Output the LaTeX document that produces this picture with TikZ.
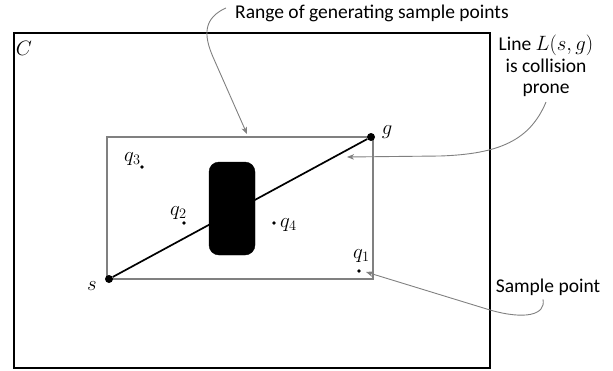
\documentclass[tikz,border=0pt]{standalone}
\usepackage{fontspec}
\setmainfont{Carlito}
\usetikzlibrary{arrows.meta}
\definecolor{linegray}{RGB}{128,128,128}
\begin{document}
\begin{tikzpicture}[x=1pt,y=-1pt,
  every node/.style={font=\fontsize{19.5}{21.5}\selectfont},
  cbox/.style={draw=black,line width=1.5pt,minimum width=476pt,minimum height=335pt,inner sep=0pt},
  rangebox/.style={draw=linegray,line width=1.3pt,minimum width=266pt,minimum height=142pt,inner sep=0pt},
  obstacle/.style={draw=black,fill=black,rounded corners=10pt,minimum width=46pt,minimum height=93pt,inner sep=0pt},
  endpt/.style={circle,fill=black,inner sep=0pt,minimum size=8pt},
  sample/.style={circle,fill=black,inner sep=0pt,minimum size=3.6pt},
  lbl/.style={inner sep=0pt},
  mlbl/.style={inner sep=0pt,font=\fontsize{21}{24}\selectfont},
  pathline/.style={line width=1.7pt,black},
  callout/.style={draw=linegray,line width=0.9pt,-{Stealth[length=7pt,width=5.5pt,inset=2pt]}}
]
\useasboundingbox (0,0) rectangle (613,370);
% configuration space
\node[cbox] (cspace) at (252,200.5) {};
\node[mlbl,anchor=base] (clbl) at (24,55) {$C$};
% range of sample points
\node[rangebox] (range) at (240,208) {};
% obstacle
\node[obstacle] (obs) at (232,208.5) {};
% start and goal
\node[endpt] (s) at (109,279) {};
\node[endpt] (g) at (371,137) {};
\draw[pathline] (s) -- (g);
\node[mlbl,anchor=base] (slbl) at (92,290) {$s$};
\node[mlbl,anchor=base] (glbl) at (387,134) {$g$};
% sample points
\node[sample] (q1) at (359,271) {};
\node[sample] (q2) at (184,223) {};
\node[sample] (q3) at (142,167) {};
\node[sample] (q4) at (274,223) {};
\node[mlbl,anchor=base west] (q1lbl) at (353,258) {$q_1$};
\node[mlbl,anchor=base west] (q2lbl) at (170,215) {$q_2$};
\node[mlbl,anchor=base west] (q3lbl) at (124,161) {$q_3$};
\node[mlbl,anchor=base west] (q4lbl) at (280,227) {$q_4$};
% annotations
\node[lbl,anchor=base west] (rangetxt) at (235,18) {Range of generating sample points};
\node[lbl,anchor=north,align=center] (linetxt) at (546,35) {Line $L(s,g)$\\is collision\\prone};
\node[lbl,anchor=base] (sampletxt) at (548,292) {Sample point};
\coordinate (rangetip) at (247,134);
\coordinate (linetip) at (347,157);
\coordinate (sampletip) at (366,272);
\draw[callout] ([xshift=-9pt,yshift=5pt]rangetxt.west) .. controls (204,18) and (203,34) .. (213,57) -- (rangetip);
\draw[callout] ([yshift=-5pt]linetxt.south) .. controls (530,140) and (500,154) .. (440,156) -- (linetip);
\draw[callout] ([xshift=-5pt,yshift=-4pt]sampletxt.south) .. controls (546,315) and (525,320) .. (490,310) -- (sampletip);
\end{tikzpicture}
\end{document}
